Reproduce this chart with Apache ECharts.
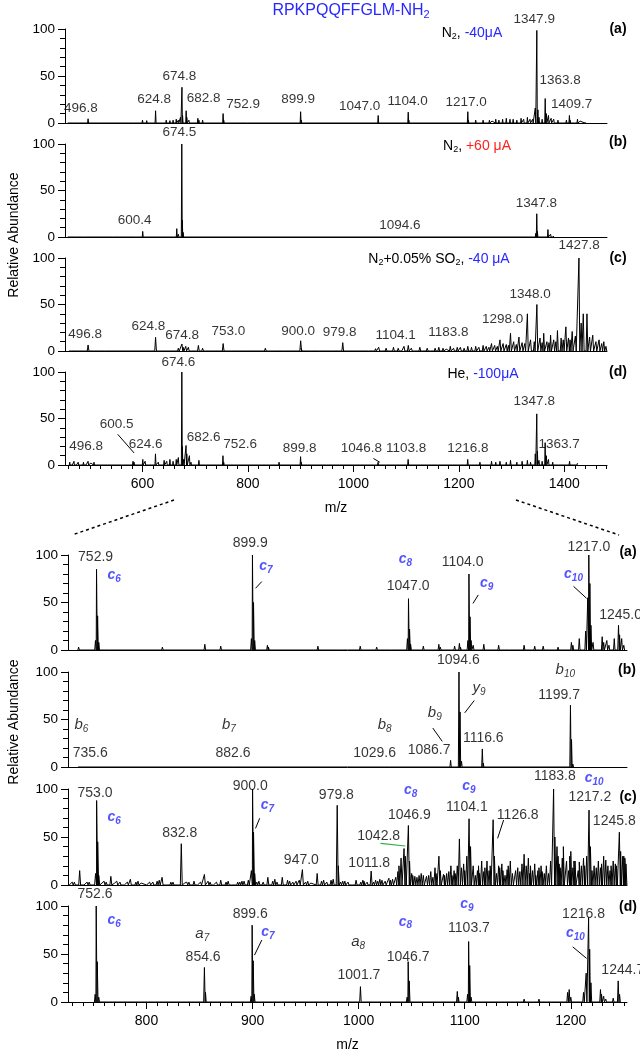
<!DOCTYPE html>
<html>
<head>
<meta charset="utf-8">
<style>
  html, body { margin: 0; padding: 0; background: #fff; }
  #chart { width: 640px; height: 1050px; }
</style>
<script src="https://cdn.jsdelivr.net/npm/echarts@6.0.0/dist/echarts.min.js"></script>
</head>
<body>
<div id="chart"></div>
<script>
// ---- axis ranges / ticks ----
var topRange = [453, 1481];
var botRange = [726, 1253];
var topTicks = [600, 800, 1000, 1200, 1400];
var botTicks = [800, 900, 1000, 1100, 1200];
var yTicks = [0, 50, 100];

// ---- peaks [m/z, relative abundance] ----
var topA = [[459,1.5],[470,1],[480,1.5],[496.8,4.5],[520,1],[560,1],[584,1.5],[600,3],[608,2.5],[624.8,13],[638,2],[645,3],[652,2.5],[658,3],[664,4],[668,3],[672,6],[674.8,38],[676,8],[682.8,13],[684,6],[688,3],[705,5],[707,3],[714,3],[735,1.5],[752.9,10],[754,3],[800,1],[858,1],[899.9,12],[901,3],[960,1],[1000,1],[1047,8],[1104,11.5],[1105,3],[1150,1],[1217,12],[1218,3],[1232,3],[1238,2],[1246,3],[1258,3],[1263,2],[1270,4],[1276,3],[1283,4],[1290,5],[1297,4],[1303,4],[1310,3],[1318,5],[1323,4],[1330,6],[1335,4],[1340,4],[1345,16],[1347.9,98.5],[1350,14],[1352,6],[1358,4],[1363.8,26],[1366,10],[1370,8],[1375,5],[1380,4],[1388,3],[1396,2],[1404,3],[1409.7,8],[1411,3],[1420,2],[1425,4],[1430,2],[1440,1]];
var topB = [[459,1.5],[476,1],[489,2],[493,1],[544,1],[588,1.5],[600.4,6],[660,2],[665,9],[668,3],[674.5,100],[675.5,18],[677,5],[686,2],[1094.6,1.2],[1346,4],[1347.8,25],[1349,6],[1369,8],[1374,3],[1380,1]];
var topC = [[462,1],[467.6,2],[480,1.5],[490,1],[496.8,6.5],[510,1],[530,1],[559,2],[580,1],[595,2],[610,1.5],[624.8,14.7],[640,2],[652,1.5],[660,2],[668,3],[674.8,7.5],[677,4],[682,5],[687,4],[695,2],[706,6],[714,3],[721,2],[730,2],[753,8],[755,2],[770,1],[790,1],[833,3],[850,1],[871,2],[900,11],[901,3],[920,1],[937,2],[962,2],[979.8,9],[990,1],[1010,2],[1030,1.5],[1042,2.5],[1048,4],[1055,2],[1062,3],[1070,2],[1076,4],[1085,3],[1090,2],[1096,5],[1104.1,6],[1110,3],[1118,2],[1126,4],[1133,2],[1140,3],[1148,2],[1155,3],[1162,4],[1170,3],[1176,2],[1183.8,5],[1190,3],[1197,4],[1203,4],[1210,3],[1217,5],[1224,4],[1232,5],[1238,4],[1246,6],[1252,5],[1257,4],[1262,8],[1268,6],[1273,5],[1278,12],[1284,8],[1290,7],[1294,6],[1298,19],[1304,10],[1309,7],[1314,15],[1320,9],[1325,8],[1330,40],[1336,12],[1343,10],[1348,50],[1354,14],[1358,9],[1361,19],[1367,10],[1371,9],[1374,17],[1380,12],[1384,10],[1387,22],[1394,14],[1398,12],[1403,26],[1408,14],[1411,12],[1415,21],[1421,16],[1427.8,100],[1432,30],[1436,40],[1443,40],[1448,15],[1454,17],[1460,10],[1466,12],[1471,8],[1475,10],[1479,5]];
var topD = [[462,3],[466,2],[470,4],[474,2],[478,3],[482,2],[488,3],[492,2],[496.8,4],[502,2],[508,3],[514,2],[520,1.5],[530,1],[545,1],[565,1],[582,4],[584,3],[600.5,6],[605,4],[612,2],[624.6,12],[630,3],[641,5],[646,4],[652,6],[658,4],[664,6],[668,8],[674.6,100],[675.6,20],[678,6],[682.6,21],[684,12],[689,10],[692,3],[707,5],[720,1.5],[752.6,10],[754,3],[790,1],[859,3],[899.8,9],[901,3],[950,1],[1000,1],[1046.8,3],[1103.8,6],[1160,1],[1216.8,6],[1218,2],[1230,2],[1240,3],[1250,2],[1262,4],[1270,3],[1278,4],[1290,3],[1298,5],[1310,3],[1320,4],[1330,5],[1336,3],[1345,12],[1347.8,55],[1349,15],[1352,5],[1358,4],[1363.7,24],[1366,10],[1370,6],[1378,3],[1390,2],[1410,4],[1425,2]];

var botA = [[736,3],[751.9,10],[752.9,85],[753.9,36],[755,8],[766,1.5],[788,1],[815,3],[855,6],[870,4],[884,1.5],[898.9,12],[899.9,100],[900.9,50],[902,10],[914,5],[915,3],[961.6,4],[983,1],[1001.5,4],[1017,3],[1031.6,2],[1046,12],[1047,54],[1048,22],[1049,6],[1061,4],[1075.6,6],[1077,3],[1090.5,4],[1095,7],[1096,3],[1103,10],[1104,80],[1105,35],[1106,10],[1108,5],[1118,6],[1132,5],[1143,2],[1156,5],[1166,4],[1174,4],[1188,3],[1200.6,8],[1202,5],[1208,12],[1214,20],[1216,55],[1217,100],[1218,70],[1219,26],[1221,8],[1229.6,14],[1231,8],[1234,10],[1236,5],[1241,12],[1245,26],[1246,16],[1248,12],[1250,5]];
var botB = [[736,1],[882.6,1],[1029.6,1],[1086.7,7],[1094.6,100],[1095.6,58],[1097,6],[1116.6,19],[1117.5,4],[1199.7,65],[1200.7,29],[1202,3]];
var botC = [[737,15],[752,12],[753,88],[754,45],[755,10],[766.4,9],[784.8,6],[814.7,8],[832.8,43],[844.8,4],[854.6,11],[870,5],[898.9,15],[900,100],[900.9,55],[902,12],[914.4,8],[928,8],[947,16],[960.9,12],[979.8,83],[980.8,20],[997.6,5],[1011.8,14.5],[1028.5,7],[1040,28],[1042.8,38],[1044,30],[1046.9,62],[1048,25],[1061,10],[1075.7,30],[1077,15],[1093,20],[1095,48],[1097,18],[1104.1,69],[1105.5,40],[1108,20],[1112,15],[1116,25],[1119,18],[1126.8,68],[1128,30],[1132,20],[1136,15],[1141,20],[1148,15],[1156,32],[1158,20],[1164,15],[1170,18],[1175,12],[1183.8,100],[1185,50],[1188,30],[1193,40],[1196,25],[1200,35],[1204,25],[1210,20],[1217.2,78],[1218.5,40],[1222,20],[1226,25],[1231,30],[1235,20],[1240,25],[1245.8,55],[1247,35],[1250,30]];
var botCNoise = [[728,2],[730,3],[732,3],[742,2],[744,3],[746,3],[758,2],[760,4],[762,3],[770,2],[772,4],[775,3],[780,2],[782,3],[790,3],[792,4],[795,2],[801,2],[803,3],[806,3],[810,4],[812,5],[820,2],[823,3],[825,3],[836,2],[838,3],[840,3],[849,2],[851,3],[858,4],[860,3],[864,2],[866,3],[875,3],[877,4],[879,2],[886,3],[888,3],[890,4],[892,4],[896,5],[904,3],[906,4],[908,2],[910,3],[919,4],[921,6],[923,3],[933,5],[935,4],[938,3],[941,4],[944,5],[950,3],[952,4],[955,2],[965,4],[967,5],[970,3],[974,5],[976,6],[983,3],[985,4],[987,4],[990,3],[992,2],[1002,3],[1004,5],[1005,4],[1008,3],[1014,3],[1016,5],[1018,4],[1020,6],[1022,5],[1025,4],[1030,5],[1032,6],[1035,8],[1037,14],[1038,20],[1050,12],[1051,10],[1053,9],[1055,8],[1057,10],[1059,12],[1064,9],[1066,10],[1068,14],[1070,8],[1072,18],[1073,12],[1080,11],[1081,10],[1083,12],[1085,14],[1087,20],[1088,10],[1090,15],[1091,12],[1099,22],[1100,15],[1102,30],[1110,10],[1113,20],[1114,12],[1118,14],[1121,25],[1123,15],[1124,20],[1130,12],[1133,18],[1135,22],[1138,10],[1140,16],[1143,25],[1145,12],[1150,18],[1152,14],[1154,22],[1160,28],[1161,12],[1162,20],[1166,22],[1167,10],[1169,15],[1172,20],[1173,14],[1177,20],[1179,12],[1181,25],[1187,40],[1189,22],[1190,18],[1192,28],[1198,15],[1199,30],[1202,18],[1203,25],[1207,15],[1208,24],[1212,28],[1213,20],[1215,30],[1220,15],[1224,18],[1228,18],[1229,22],[1233,26],[1237,15],[1238,20],[1242,22],[1243,20],[1249,30],[1251,28],[1252,22]];
var botD = [[751.6,8],[752.6,100],[753.6,42],[755,5],[854.6,36],[855.6,10],[898.6,6],[899.6,80],[900.6,43],[901.6,8],[1001.7,16],[1045.7,5],[1046.7,42],[1047.7,22],[1093,11],[1094,5],[1102.7,8],[1103.7,63],[1104.7,38],[1106,5],[1156,3],[1170,3],[1197,10],[1198.5,13],[1200,5],[1212,10],[1214.5,30],[1216.8,88],[1217.8,55],[1219,20],[1228,13],[1229,8],[1231,6],[1233,3],[1240,4],[1244.7,22],[1246,8]];

// ---- peak labels [m/z, abundance, text] ----
var labTopA = [[483,16,'496.8'],[622,25,'624.8'],[670,50,'674.8'],[716,26,'682.8'],[791,19.5,'752.9'],[895,25,'899.9'],[1012,18,'1047.0'],[1103,23,'1104.0'],[1214,21.6,'1217.0'],[1343,110.6,'1347.9'],[1392,45,'1363.8'],[1414,19.5,'1409.7']];
var labTopB = [[670,112.5,'674.5'],[585,17.8,'600.4'],[1088,12.4,'1094.6'],[1347,36,'1347.8']];
var labTopC = [[491,18,'496.8'],[611,27,'624.8'],[675,16.4,'674.8'],[763,20.7,'753.0'],[895,20.7,'900.0'],[974,20,'979.8'],[1080,17,'1104.1'],[1180,20,'1183.8'],[1283,34,'1298.0'],[1335,61,'1348.0'],[1428,114,'1427.8']];
var labTopD = [[668,110.7,'674.6'],[551,44,'600.5'],[606,22,'624.6'],[716,30,'682.6'],[785,22.5,'752.6'],[493,19.6,'496.8'],[898,18,'899.8'],[1015,18,'1046.8'],[1100,18,'1103.8'],[1217,18,'1216.8'],[1343,68.6,'1347.8'],[1390,22.5,'1363.7']];
var labBotA = [[752,97.5,'752.9'],[897.8,112,'899.9'],[1044,96,'c_8'],[1098,93,'1104.0'],[1217,108,'1217.0'],[912.5,88,'c_7'],[769.5,79,'c_6'],[1202.6,80,'c_10'],[1046.7,66.7,'1047.0'],[1120.6,70,'c_9'],[1247,37,'1245.0']];
var labBotB = [[1094,112.6,'1094.6'],[1194.8,102,'b_10'],[1113.6,83,'y_9'],[1189,76,'1199.7'],[1071.8,57,'b_9'],[738.6,44,'b_6'],[877.7,44,'b_7'],[1024.6,44,'b_8'],[1117.5,30,'1116.6'],[747,14.7,'735.6'],[881.6,14.7,'882.6'],[1015,14.7,'1029.6'],[1066.4,18.2,'1086.7']];
var labBotC = [[751.5,96,'753.0'],[897.8,103,'900.0'],[979,94,'979.8'],[1049,99,'c_8'],[1104,103,'c_9'],[1185,113,'1183.8'],[1222,111,'c_10'],[1218,91,'1217.2'],[769.5,71,'c_6'],[914,83,'c_7'],[1047.8,73,'1046.9'],[1102,81,'1104.1'],[1150,73,'1126.8'],[1241,66,'1245.8'],[831.3,54,'832.8'],[1018.9,51,'1042.8'],[946,26,'947.0'],[1010,23,'1011.8']];
var labBotD = [[751.5,112,'752.6'],[1102,102,'c_9'],[1212,92,'1216.8'],[897.8,92,'899.6'],[769.5,85,'c_6'],[1044,83.6,'c_8'],[1104,76.7,'1103.7'],[852.6,70.6,'a_7'],[914.4,73,'c_7'],[1204.4,71.4,'c_10'],[999.5,62.7,'a_8'],[853.4,47,'854.6'],[1046.7,47,'1046.7'],[1249,33,'1244.7'],[1000.3,28,'1001.7']];

// leader lines [[m/z, ab], [m/z, ab]]
var leadTopD = [[[553,33],[584,13]],[[1038,7],[1050,3]]];
var leadBotA = [[[908.7,72],[902.8,65]],[[1112.8,58],[1107.8,49]],[[1202.6,67],[1214.9,54.4]]];
var leadBotB = [[[1069.9,41],[1078.8,27]],[[1109,70],[1100,57]]];
var leadBotC = [[[906.7,69.5],[902.8,59]],[[1136.7,67.7],[1131,48.6]]];
var greenBotC = [[[1020.6,43.4],[1044,40.6]]];
var leadBotD = [[[908.7,64.5],[901.8,48.8]],[[1201.8,57.5],[1214.9,45.4]]];

var FONT = 'Liberation Sans, Arial, sans-serif';
var BLUE = '#2727ff';

var panels = [
  {top:29, height:94, bot:false, range:topRange, peaks:[topA], labels:labTopA, leaders:[], fs:13.5, hw:0.9},
  {top:144, height:93, bot:false, range:topRange, peaks:[topB], labels:labTopB, leaders:[], fs:13.5, hw:0.9},
  {top:258, height:93, bot:false, range:topRange, peaks:[topC], labels:labTopC, leaders:[], fs:13.5, hw:1.6},
  {top:372, height:93, bot:false, range:topRange, peaks:[topD], labels:labTopD, leaders:leadTopD, fs:13.5, hw:0.9, ticks:topTicks, step:20},
  {top:555, height:95, bot:true, range:botRange, peaks:[botA], labels:labBotA, leaders:leadBotA, fs:14, hw:0.7},
  {top:672, height:95, bot:true, range:botRange, peaks:[botB], labels:labBotB, leaders:leadBotB, fs:14, hw:0.6},
  {top:789, height:96, bot:true, range:botRange, peaks:[botC, botCNoise], labels:labBotC, leaders:leadBotC, green:greenBotC, fs:14, hw:0.9},
  {top:906, height:96, bot:true, range:botRange, peaks:[botD], labels:labBotD, leaders:leadBotD, fs:14, hw:0.7, ticks:botTicks, step:10}
];

function buildTrace(lists, hw) {
  var all = [];
  lists.forEach(function (l) { all = all.concat(l); });
  all.sort(function (a, b) { return a[0] - b[0]; });
  var pts = [];
  all.forEach(function (p) {
    pts.push([p[0] - hw, 0], [p[0], p[1]], [p[0] + hw, 0]);
  });
  return pts;
}

function labelText(t) {
  var m = /^([abcy])_(\d+)$/.exec(t);
  if (!m) return t;
  if (m[1] === 'c') return '{ci|c}{cs|' + m[2] + '}';
  return '{ki|' + m[1] + '}{ks|' + m[2] + '}';
}

var richIon = {
  ci: {fontStyle:'italic', fontWeight:'bold', color:BLUE, fontSize:14, lineHeight:18, fontFamily:FONT},
  cs: {fontStyle:'italic', fontWeight:'bold', color:BLUE, fontSize:10, lineHeight:8, verticalAlign:'bottom', fontFamily:FONT},
  ki: {fontStyle:'italic', color:'#000', fontSize:15, lineHeight:18, fontFamily:FONT},
  ks: {fontStyle:'italic', color:'#000', fontSize:10, lineHeight:8, verticalAlign:'bottom', fontFamily:FONT}
};

function range(a, b, s) {
  var out = [];
  for (var v = a; v <= b; v += s) out.push(v);
  return out;
}

var grids = [], xAxes = [], yAxes = [], series = [];

panels.forEach(function (p, i) {
  var left = p.bot ? 68 : 65;
  var width = p.bot ? 559 : 542;
  grids.push({left:left, width:width, top:p.top, height:p.height, outerBoundsMode:'none', containLabel:false});
  var xi = xAxes.length;
  xAxes.push({
    type:'value', gridIndex:i, min:p.range[0], max:p.range[1],
    axisLine:{show:true, onZero:false, lineStyle:{color:'#000', width:1}},
    axisTick:p.ticks ? {show:true, length:4, customValues:range(Math.ceil(p.range[0] / p.step) * p.step, p.range[1], p.step), lineStyle:{color:'#000'}} : {show:false},
    axisLabel:{show:false}, splitLine:{show:false}
  });
  if (p.ticks) {
    xAxes.push({
      type:'value', gridIndex:i, min:p.range[0], max:p.range[1], position:'bottom',
      axisLine:{show:false},
      axisTick:{show:true, length:7, customValues:p.ticks, lineStyle:{color:'#000'}},
      axisLabel:{show:true, customValues:p.ticks, color:'#000', fontSize:14, fontFamily:FONT, margin:12,
        formatter:function (v) { return String(v); }},
      splitLine:{show:false},
      name:'m/z', nameLocation:'middle', nameGap:36,
      nameTextStyle:{color:'#000', fontSize:14, fontFamily:FONT}
    });
  }
  yAxes.push({
    type:'value', gridIndex:i, min:0, max:100, interval:50,
    axisLine:{show:true, lineStyle:{color:'#000', width:1}},
    axisTick:{show:true, length:7, lineStyle:{color:'#000'}},
    minorTick:{show:true, splitNumber:5, length:5, lineStyle:{color:'#000'}},
    axisLabel:{color:'#000', fontSize:13.5, fontFamily:FONT, margin:10, customValues:yTicks},
    splitLine:{show:false}
  });

  series.push({
    type:'line', xAxisIndex:xi, yAxisIndex:i,
    data:buildTrace(p.peaks, p.hw),
    showSymbol:false, symbol:'none', animation:false, silent:true,
    lineStyle:{color:'#000', width:1}
  });

  var markData = p.leaders.map(function (l) {
    return [{coord:l[0]}, {coord:l[1]}];
  });
  if (p.green) {
    p.green.forEach(function (l) {
      markData.push([{coord:l[0], lineStyle:{color:'#2fb04a', width:1.2}}, {coord:l[1]}]);
    });
  }

  series.push({
    type:'scatter', xAxisIndex:xi, yAxisIndex:i, symbolSize:0, clip:false,
    animation:false, silent:true,
    data:p.labels.map(function (l) {
      return {value:[l[0], l[1]], label:{formatter:labelText(l[2])}};
    }),
    label:{show:true, position:'inside', color:'#000', fontSize:p.fs, fontFamily:FONT, rich:richIon},
    markLine:{
      silent:true, symbol:'none', animation:false,
      label:{show:false},
      lineStyle:{color:'#000', width:1, type:'solid'},
      data:markData
    }
  });
});

function cond(x, y, parts) {
  return {type:'text', x:x, y:y, silent:true, style:{
    text:parts, textAlign:'center', textVerticalAlign:'middle', fontFamily:FONT,
    rich:{
      n:{fontSize:14, fill:'#000', lineHeight:16, fontFamily:FONT},
      s:{fontSize:9, fill:'#000', lineHeight:6, verticalAlign:'bottom', fontFamily:FONT},
      b:{fontSize:14, fill:BLUE, lineHeight:16, fontFamily:FONT},
      r:{fontSize:14, fill:'#ff2020', lineHeight:16, fontFamily:FONT}
    }
  }};
}
function letter(x, y, t) {
  return {type:'text', x:x, y:y, silent:true, style:{text:t, textAlign:'center', textVerticalAlign:'middle', fontSize:14, fontWeight:'bold', fill:'#000', fontFamily:FONT}};
}
function ylab(x, y) {
  return {type:'text', x:x, y:y, rotation:Math.PI / 2, silent:true, style:{text:'Relative Abundance', textAlign:'center', textVerticalAlign:'middle', fontSize:14, fill:'#000', fontFamily:FONT}};
}

var graphic = [
  {type:'text', x:351, y:11, silent:true, style:{
    text:'{t|RPKPQQFFGLM-NH}{s|2}', textAlign:'center', textVerticalAlign:'middle',
    rich:{t:{fontSize:16, fill:BLUE, lineHeight:18, fontFamily:FONT}, s:{fontSize:11, fill:BLUE, lineHeight:8, verticalAlign:'bottom', fontFamily:FONT}}
  }},
  cond(472, 33, '{n|N}{s|2}{n|, }{b|-40μA}'),
  cond(477, 146, '{n|N}{s|2}{n|, }{r|+60 μA}'),
  cond(439, 259, '{n|N}{s|2}{n|+0.05% SO}{s|2}{n|, }{b|-40 μA}'),
  cond(483, 374, '{n|He, }{b|-100μA}'),
  letter(618, 29, '(a)'), letter(618, 142, '(b)'), letter(618, 258, '(c)'), letter(618, 372, '(d)'),
  letter(628, 552, '(a)'), letter(627, 670, '(b)'), letter(628, 797, '(c)'), letter(628, 907, '(d)'),
  ylab(14, 235), ylab(14, 722),
  {type:'line', silent:true, shape:{x1:174, y1:500, x2:72, y2:535}, style:{stroke:'#000', lineWidth:1.5, lineDash:[3,3]}},
  {type:'line', silent:true, shape:{x1:516, y1:500, x2:619, y2:535}, style:{stroke:'#000', lineWidth:1.5, lineDash:[3,3]}}
];

var chart = echarts.init(document.getElementById('chart'), null, {renderer:'canvas'});
chart.setOption({
  animation:false,
  backgroundColor:'#fff',
  textStyle:{fontFamily:FONT},
  grid:grids, xAxis:xAxes, yAxis:yAxes, series:series, graphic:graphic
});
</script>
</body>
</html>
